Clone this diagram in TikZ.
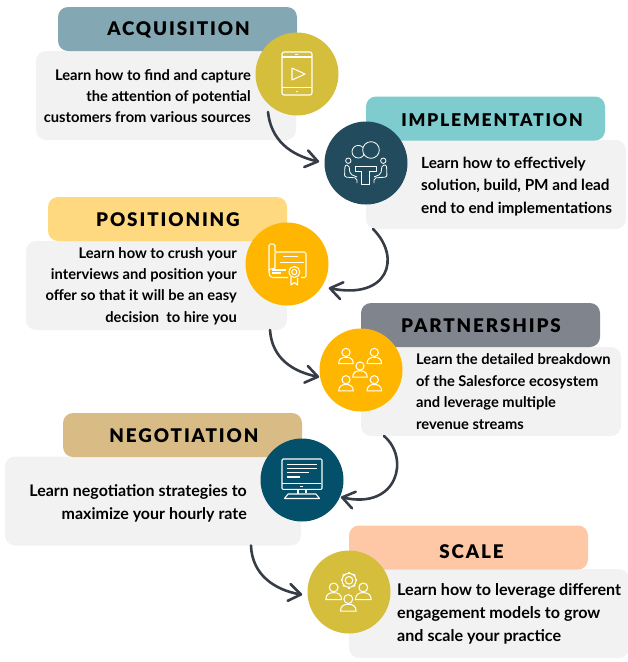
\documentclass[tikz,border=0pt]{standalone}
\usepackage{fontspec}
\setmainfont{Lato}
\newfontfamily\titlefont[LetterSpace=10]{Lato Black}
\usetikzlibrary{arrows.meta,calc}
\definecolor{acqcol}{HTML}{83A8B3}
\definecolor{implcol}{HTML}{7FCCCE}
\definecolor{poscol}{HTML}{FFD97F}
\definecolor{partcol}{HTML}{80848D}
\definecolor{negcol}{HTML}{D9BB86}
\definecolor{scalecol}{HTML}{FEC8A7}
\definecolor{boxgrey}{HTML}{F2F2F2}
\definecolor{olivedisc}{HTML}{D4BE3B}
\definecolor{navydisc}{HTML}{234B5E}
\definecolor{amberdisc}{HTML}{FFB600}
\definecolor{tealdisc}{HTML}{04506A}
\definecolor{linkcol}{HTML}{373D47}

\begin{document}
\begin{tikzpicture}[
        x=1pt,y=-1pt,shorten >=1pt,>={Straight Barb[length=12pt,width=17pt,round]},
        head/.style={rectangle,rounded corners=10pt,inner sep=0pt,outer sep=0pt,minimum width=239pt,minimum height=44pt},
        body/.style={rectangle,rounded corners=10pt,inner sep=0pt,outer sep=0pt,fill=boxgrey,minimum height=89pt},
        disc/.style={circle,inner sep=0pt,outer sep=0pt,minimum size=83pt},
        title/.style={inner sep=0pt,font=\titlefont\fontsize{#1}{20}\selectfont},
        title/.default=18.8,
        blurb/.style 2 args={inner sep=0pt,font=\fontsize{#1}{#2}\selectfont\bfseries},
        link/.style={->,draw=linkcol,line width=2.6pt,line cap=round,line join=round},
        icon/.style={white,line width=1.05pt,line join=round},
        person/.pic={
            \draw (0,-3) circle (4.1);
            \draw (-7.3,8.2) .. controls (-7.3,3) and (-3.5,1.8) .. (0,1.8) .. controls (3.5,1.8) and (7.3,3) .. (7.3,8.2) -- cycle;
        },
        ]
        \useasboundingbox (0,0) rectangle (628,662);
        % acquisition
        \node[body,minimum width=260pt]            (acqbody)   at (166,95.5)    {};
        \node[head,fill=acqcol]                    (acqhead)   at (177.5,29)    {};
        \node[title]                               (acqtitle)  at (178.5,30)    {ACQUISITION};
        \node[disc,fill=olivedisc]                 (acqdisc)   at (297,74)      {};
        \node[blurb={14.7}{21.4},align=right,anchor=east] (acqtext) at (251,96) {Learn how to find and capture\\the attention of potential\\customers from various sources};
        % implementation
        \node[body,minimum width=260pt]            (implbody)  at (496,184.5)   {};
        \node[head,fill=implcol]                   (implhead)  at (485.5,118.5) {};
        \node[title=17.6]                          (impltitle) at (492,120.5)   {IMPLEMENTATION};
        \node[disc,fill=navydisc]                  (impldisc)  at (366,163)     {};
        \node[blurb={15.3}{22.4},align=left,anchor=west] (impltext) at (421,186.5) {Learn how to effectively\\solution, build, PM and lead\\end to end implementations};
        % positioning
        \node[body,minimum width=261pt]            (posbody)   at (156.5,285.5) {};
        \node[head,fill=poscol]                    (poshead)   at (167.5,219)   {};
        \node[title]                               (postitle)  at (168,219.5)   {POSITIONING};
        \node[disc,fill=amberdisc]                 (posdisc)   at (287,264)     {};
        \node[blurb={14.7}{21.3},align=right,anchor=east] (postext) at (237,286) {Learn how to crush your\\interviews and position your\\offer so that it will be an easy\\decision\ \ to hire you};
        % partnerships
        \node[body,minimum width=260pt]            (partbody)  at (491,391.5)   {};
        \node[head,fill=partcol]                   (parthead)  at (480.5,325)   {};
        \node[title]                               (parttitle) at (481,325.5)   {PARTNERSHIPS};
        \node[disc,fill=amberdisc]                 (partdisc)  at (361,370)     {};
        \node[blurb={14.7}{21.7},align=left,anchor=west] (parttext) at (416,391.5) {Learn the detailed breakdown\\of the Salesforce ecosystem\\and leverage multiple\\revenue streams};
        % negotiation
        \node[body,minimum width=296pt]            (negbody)   at (153,501)     {};
        \node[head,fill=negcol]                    (neghead)   at (182.5,435)   {};
        \node[title]                               (negtitle)  at (184,435.5)   {NEGOTIATION};
        \node[disc,fill=tealdisc]                  (negdisc)   at (302,480)     {};
        \node[blurb={16}{23},align=right,anchor=east] (negtext) at (247,503) {Learn negotiation strategies to\\maximize your hourly rate};
        % scale
        \node[body,minimum width=280pt]            (scalebody) at (489,613.5)   {};
        \node[head,fill=scalecol]                  (scalehead) at (468.5,547.5) {};
        \node[title]                               (scaletitle) at (471.5,551.5) {SCALE};
        \node[disc,fill=olivedisc]                 (scaledisc) at (349,592)     {};
        \node[blurb={16.1}{23},align=left,anchor=west] (scaletext) at (397,613.5) {Learn how to leverage different\\engagement models to grow\\and scale your practice};

        % arrows between the stages
        \draw[link,shorten >=5.5pt] ([shift={(-28pt,28pt)}]acqbody.south east) .. controls (271,140) and (290,155) .. (impldisc.180);
        \draw[link,shorten >=7pt] ([xshift=7pt]implbody.south west) .. controls (402,258) and (388,300) .. (posdisc.-33);
        \draw[link] ([xshift=-17pt]posbody.south east) .. controls (272,360) and (295,372) .. (partdisc.190);
        \draw[link] ([xshift=23pt]partbody.south west) .. controls (410,458) and (398,510) .. (negdisc.-24);
        \draw[link,shorten >=5.5pt] ([xshift=-50pt]negbody.south east) .. controls (252,575) and (275,590) .. (scaledisc.185);

        % tablet
        \begin{scope}[shift={(acqdisc.center)},icon]
            \draw[rounded corners=2pt] (-15,-22) rectangle (15,21);
            \draw (-15,-17) -- (15,-17) (-15,13.5) -- (15,13.5) (-2,-19.5) -- (2,-19.5);
            \draw (-5,-6) -- (-5,6) -- (8,0) -- cycle;
            \fill (0,17.5) circle (.9);
        \end{scope}
        % meeting table
        \begin{scope}[shift={(impldisc.center)},icon,line width=.8pt]
            \draw (-7.7,-11.3) circle (6.3);
            \draw[fill=navydisc] (5,-13) circle (8.3);
            \draw (-17.7,-2.3) circle (2.7) (17.3,-2.3) circle (2.7);
            \draw (-11,3) -- (10,3) -- (10,8) -- (3,8) -- (3,21) -- (-4.3,21) -- (-4.3,8) -- (-11,8) -- cycle;
            \draw[rounded corners=2pt] (-9,14) -- (-16,11) -- (-17,2) -- (-21,2) -- (-21.5,14) -- (-9,15) -- (-9,21);
            \draw[rounded corners=2pt] (8,14) -- (15,11) -- (16,2) -- (20.5,2) -- (21,14) -- (8,15) -- (8,21);
        \end{scope}
        % certificate
        \begin{scope}[shift={(posdisc.center)},icon]
            \draw[rounded corners=1.5pt] (-12,-12) -- (-12,-20) -- (-18,-20) -- (-18,10) -- (-16,13.5) -- (2,13.5);
            \draw[rounded corners=1.5pt] (-18,6) -- (-14,4) -- (-12,5) -- (-12,-12) -- (19,-12) -- (19,13.5) -- (13,13.5);
            \draw (-4,-7.3) -- (11,-7.3) (-7,-1.5) -- (17,-1.5) (-15,6) -- (-1,6) (-15,9) -- (-5,9);
            \draw (7.3,8) circle (5.5) (7.3,8) circle (2.6);
            \draw (4,13) -- (4,21) -- (7.3,18.5) -- (10.5,21) -- (10.5,13);
        \end{scope}
        % five people
        \begin{scope}[shift={(partdisc.center)},icon]
            \foreach \px/\py in {-15/-14.6,13.3/-14.6,-1/-1,-15/12.7,13.3/12.7}
                \pic at (\px,\py) {person};
        \end{scope}
        % monitor
        \begin{scope}[shift={(negdisc.center)},icon]
            \draw[rounded corners=1pt] (-20,-21) rectangle (20,9.3);
            \draw (-20,3.5) -- (20,3.5);
            \draw (-15,-15.3) -- (15,-15.3) (-15,-11.3) -- (15,-11.3) (-15,-7.3) -- (7.3,-7.3) (-15,-3) -- (-1,-3);
            \draw (-2,6.3) -- (2,6.3);
            \draw (-4,9.3) -- (-4,14) (4,9.3) -- (4,14);
            \draw (-14,14) -- (14,14) -- (17.5,18.5) -- (-17.5,18.5) -- cycle;
        \end{scope}
        % gear and three people
        \begin{scope}[shift={(scaledisc.center)},icon]
            \draw (0,-11.7) circle (7) (0,-11.7) circle (3.8);
            \foreach \ang in {0,45,...,315}
                \draw[line width=2.2pt] ($(0,-11.7)+(\ang:7)$) -- ($(0,-11.7)+(\ang:9.2)$);
            \pic[scale=1.08] at (-15.3,-1.3) {person};
            \pic[scale=1.08] at (14.3,-1.3) {person};
            \pic[scale=1.08] at (-.7,10.3) {person};
        \end{scope}
\end{tikzpicture}
\end{document}
